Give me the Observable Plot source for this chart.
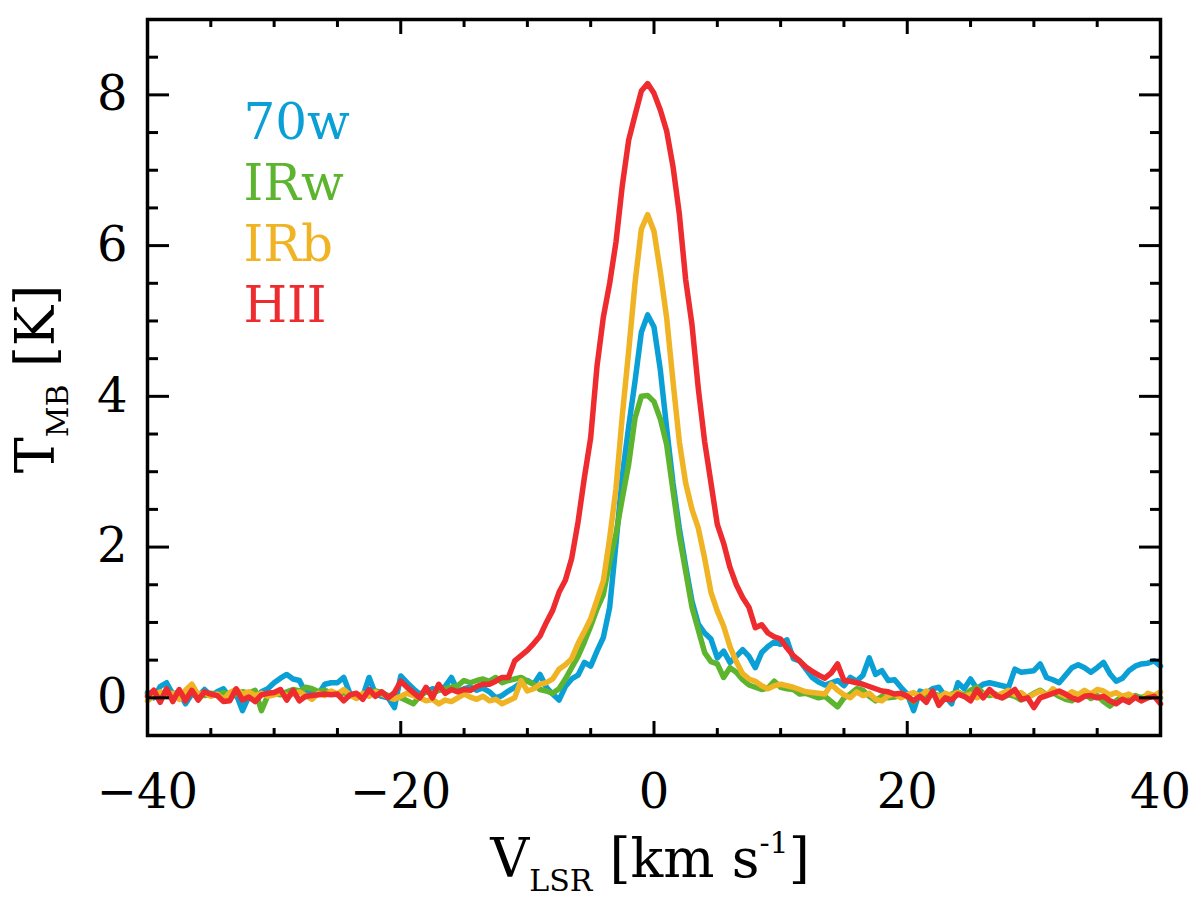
<!DOCTYPE html>
<html lang="en">
<head>
<meta charset="UTF-8">
<title>TMB spectra</title>
<script src="https://cdn.jsdelivr.net/npm/d3@7"></script>
<script src="https://cdn.jsdelivr.net/npm/@observablehq/plot@0.6"></script>
<style>
  body { margin: 0; background: #fff; }
  #chart { width: 1200px; height: 906px; }
</style>
</head>
<body>
<div id="chart"></div>
<script>
// channel velocities, km/s
const velocity = [
  -40,-39.5,-39,-38.5,-38,-37.5,-37,-36.5,-36,-35.5,
  -35,-34.5,-34,-33.5,-33,-32.5,-32,-31.5,-31,-30.5,
  -30,-29.5,-29,-28.5,-28,-27.5,-27,-26.5,-26,-25.5,
  -25,-24.5,-24,-23.5,-23,-22.5,-22,-21.5,-21,-20.5,
  -20,-19.5,-19,-18.5,-18,-17.5,-17,-16.5,-16,-15.5,
  -15,-14.5,-14,-13.5,-13,-12.5,-12,-11.5,-11,-10.5,
  -10,-9.5,-9,-8.5,-8,-7.5,-7,-6.5,-6,-5.5,
  -5,-4.5,-4,-3.5,-3,-2.5,-2,-1.5,-1,-0.5,
  0,0.5,1,1.5,2,2.5,3,3.5,4,4.5,
  5,5.5,6,6.5,7,7.5,8,8.5,9,9.5,
  10,10.5,11,11.5,12,12.5,13,13.5,14,14.5,
  15,15.5,16,16.5,17,17.5,18,18.5,19,19.5,
  20,20.5,21,21.5,22,22.5,23,23.5,24,24.5,
  25,25.5,26,26.5,27,27.5,28,28.5,29,29.5,
  30,30.5,31,31.5,32,32.5,33,33.5,34,34.5,
  35,35.5,36,36.5,37,37.5,38,38.5,39,39.5,
  40
];

// main-beam temperatures, K
const t70w = [
  0.07,0.00,0.15,0.20,0.05,0.08,-0.08,0.05,0.02,0.11,
  0.03,0.08,0.12,0.00,0.05,-0.17,0.02,0.00,0.08,0.12,
  0.20,0.26,0.31,0.25,0.23,0.06,0.09,0.05,0.18,0.20,
  0.20,0.27,0.05,0.04,0.02,0.27,0.05,0.02,0.00,-0.13,
  0.29,0.20,0.12,0.05,0.09,0.12,0.10,0.15,0.27,0.09,
  0.12,0.14,0.10,0.13,0.08,0.00,0.03,0.09,0.14,0.20,
  0.23,0.18,0.31,0.14,0.05,-0.03,0.15,0.25,0.30,0.47,
  0.42,0.62,0.80,1.20,2.05,2.95,3.60,4.20,4.85,5.08,
  4.92,4.35,3.58,2.85,2.25,1.75,1.28,0.98,0.86,0.78,
  0.53,0.62,0.47,0.55,0.64,0.55,0.40,0.60,0.68,0.74,
  0.71,0.77,0.52,0.49,0.38,0.27,0.21,0.17,0.20,0.23,
  0.16,0.27,0.22,0.30,0.53,0.31,0.36,0.23,0.24,0.14,
  0.05,-0.17,0.09,0.06,0.12,0.14,0.02,-0.08,0.20,0.12,
  0.25,0.12,0.18,0.20,0.18,0.16,0.14,0.38,0.34,0.35,
  0.36,0.45,0.27,0.24,0.20,0.30,0.40,0.44,0.40,0.34,
  0.40,0.47,0.32,0.22,0.26,0.36,0.42,0.45,0.46,0.49,
  0.42
];
const tIRw = [
  0.05,0.08,0.02,0.10,0.04,0.06,0.02,0.08,0.05,0.03,
  0.06,0.04,0.07,0.03,0.05,0.08,0.06,0.10,-0.17,0.03,
  0.06,0.04,0.08,0.11,0.09,0.14,0.12,0.08,0.10,0.06,
  0.04,0.07,0.03,0.02,0.05,0.06,0.09,0.07,0.03,0.01,
  0.00,-0.04,-0.08,0.02,0.08,0.06,0.10,0.12,0.14,0.16,
  0.23,0.20,0.23,0.25,0.22,0.27,0.20,0.23,0.25,0.27,
  0.22,0.18,0.11,0.09,0.06,0.12,0.25,0.40,0.55,0.74,
  0.95,1.18,1.37,1.80,2.18,2.65,3.10,3.71,4.00,4.01,
  3.93,3.70,3.36,2.75,2.15,1.68,1.20,0.90,0.60,0.48,
  0.45,0.27,0.40,0.34,0.24,0.17,0.14,0.11,0.13,0.22,
  0.14,0.12,0.11,0.05,0.06,0.03,0.00,0.02,-0.05,-0.12,
  0.00,0.05,0.12,0.10,0.02,-0.04,0.02,0.00,0.01,0.04,
  0.02,-0.05,0.04,0.01,0.06,0.03,-0.02,0.05,0.08,0.03,
  0.10,0.14,0.06,0.03,0.05,0.00,0.04,0.02,-0.03,0.01,
  0.06,0.10,0.04,0.07,0.02,-0.02,-0.04,0.03,0.05,-0.01,
  0.03,-0.05,-0.11,-0.04,0.02,-0.03,0.03,0.00,0.04,0.02,
  0.00
];
const tIRb = [
  -0.04,0.03,0.08,0.02,0.06,-0.02,0.10,0.18,0.04,0.07,
  0.02,0.05,-0.02,0.07,0.11,0.05,0.08,0.03,0.06,0.02,
  0.04,0.07,0.03,0.05,0.08,0.03,-0.02,0.06,0.03,0.09,
  0.05,0.11,0.04,-0.01,0.06,0.02,0.08,0.05,0.01,-0.02,
  0.02,0.06,0.03,0.00,-0.04,-0.02,-0.08,-0.03,-0.05,0.00,
  0.05,0.01,-0.02,0.02,-0.04,-0.02,-0.08,-0.04,0.00,0.23,
  0.09,0.12,0.18,0.20,0.25,0.38,0.44,0.52,0.72,0.88,
  1.05,1.30,1.55,2.12,2.78,3.75,4.60,5.50,6.22,6.41,
  6.19,5.65,5.04,4.20,3.40,2.85,2.50,2.25,1.85,1.40,
  1.15,0.95,0.68,0.48,0.32,0.25,0.22,0.16,0.12,0.16,
  0.18,0.16,0.14,0.11,0.08,0.07,0.06,0.05,0.18,0.10,
  0.04,0.00,0.08,0.03,0.06,-0.02,-0.04,0.03,0.05,0.00,
  0.04,0.07,0.02,0.09,0.05,0.01,0.06,0.03,0.07,0.02,
  0.05,0.00,0.04,0.08,0.02,0.06,0.10,0.04,0.07,0.00,
  0.05,0.09,0.03,0.12,0.06,0.02,0.08,0.04,0.10,0.05,
  0.11,0.09,0.04,0.07,0.02,0.05,0.00,-0.04,0.06,0.03,
  0.08
];
const tHII = [
  0.02,0.10,-0.06,0.12,-0.05,0.11,-0.04,0.10,-0.03,0.08,
  0.05,0.03,-0.05,-0.04,0.12,-0.03,0.01,-0.05,0.04,0.06,
  0.07,0.11,-0.03,0.10,-0.04,0.02,0.03,0.04,0.05,0.04,
  0.05,-0.04,0.04,0.06,-0.02,0.11,0.02,0.08,0.00,0.07,
  0.22,0.14,0.07,0.00,0.14,0.00,0.18,0.06,0.11,0.08,
  0.11,0.10,0.15,0.18,0.18,0.22,0.27,0.27,0.49,0.56,
  0.63,0.72,0.82,1.00,1.16,1.40,1.56,1.85,2.33,2.92,
  3.45,4.40,5.05,5.50,6.05,6.80,7.40,7.73,8.05,8.15,
  8.02,7.80,7.52,7.05,6.42,5.55,4.95,4.10,3.40,2.85,
  2.30,2.05,1.73,1.50,1.33,1.20,0.93,0.97,0.86,0.81,
  0.78,0.66,0.56,0.49,0.41,0.35,0.30,0.26,0.33,0.45,
  0.23,0.22,0.20,0.18,0.15,0.12,0.09,0.08,0.05,0.06,
  0.02,-0.04,0.02,-0.06,0.09,-0.10,0.00,-0.03,0.05,0.02,
  -0.04,0.11,0.00,0.11,0.03,0.00,0.05,0.11,-0.02,0.00,
  -0.13,0.00,0.03,0.06,0.09,0.05,0.00,-0.03,0.02,0.03,
  0.00,0.02,-0.04,-0.08,-0.02,-0.06,0.01,-0.04,0.00,0.02,
  -0.08
];

const names = ["70w", "IRw", "IRb", "HII"];
const colors = ["#0aa0d6", "#5db42f", "#efb324", "#ee2b2e"];
const series = [t70w, tIRw, tIRb, tHII];

const xMajor = [-40, -20, 0, 20, 40];
const xMinor = [-35, -30, -25, -15, -10, -5, 5, 10, 15, 25, 30, 35];
const yMajor = [0, 2, 4, 6, 8];
const yMinor = [0.5, 1, 1.5, 2.5, 3, 3.5, 4.5, 5, 5.5, 6.5, 7, 7.5, 8.5];

const rows = names.flatMap((name, k) =>
  velocity.map((v, i) => ({v, t: series[k][i], name})));

const tickOpts = {strokeWidth: 3, fill: "none", label: null};

const chart = Plot.plot({
  width: 1200,
  height: 906,
  marginLeft: 147,
  marginRight: 40,
  marginTop: 19,
  marginBottom: 171,
  style: {fontFamily: "'DejaVu Serif', serif", fontSize: "48px", color: "black", background: "white"},
  x: {domain: [-40, 40]},
  y: {domain: [-0.5, 9]},
  color: {domain: names, range: colors},
  marks: [
    Plot.line(rows, {x: "v", y: "t", z: "name", stroke: "name", strokeWidth: 5.5, strokeLinejoin: "round"}),
    // inward ticks on all four sides
    Plot.axisX(xMinor, {anchor: "bottom", tickSize: -7, ...tickOpts}),
    Plot.axisX(xMajor, {anchor: "bottom", tickSize: -14, ...tickOpts}),
    Plot.axisX(xMinor, {anchor: "top", tickSize: -7, ...tickOpts}),
    Plot.axisX(xMajor, {anchor: "top", tickSize: -14, ...tickOpts}),
    Plot.axisY(yMinor, {anchor: "left", tickSize: -11, ...tickOpts}),
    Plot.axisY(yMajor, {anchor: "left", tickSize: -22, ...tickOpts}),
    Plot.axisY(yMinor, {anchor: "right", tickSize: -11, ...tickOpts}),
    Plot.axisY(yMajor, {anchor: "right", tickSize: -22, ...tickOpts}),
    // tick labels
    Plot.axisX(xMajor, {anchor: "bottom", tickSize: 0, tickPadding: 38, fontSize: 48, label: null}),
    Plot.axisY(yMajor, {anchor: "left", tickSize: 0, tickPadding: 20, fontSize: 48, label: null, tickFormat: "d"}),
    Plot.frame({stroke: "black", strokeWidth: 3.5}),
    // legend
    ...names.map((name, i) => Plot.text([name], {
      text: d => d, fill: colors[i], frameAnchor: "top-left", textAnchor: "start",
      lineAnchor: "top", dx: 96, dy: 84 + 61 * i, fontSize: 50
    }))
  ]
});

const svg = d3.select(chart);

// x label with subscript and superscript
const xl = svg.append("text")
  .attr("x", 650).attr("y", 877)
  .attr("text-anchor", "middle").attr("font-size", 54).attr("fill", "black");
xl.append("tspan").text("V");
xl.append("tspan").attr("dy", 14).attr("font-size", 30).text("LSR");
xl.append("tspan").attr("dy", -14).text(" [km s");
xl.append("tspan").attr("dy", -24).attr("font-size", 30).text("-1");
xl.append("tspan").attr("dy", 24).text("]");

// y label, rotated
const yl = svg.append("text")
  .attr("transform", "translate(54,379) rotate(-90)")
  .attr("text-anchor", "middle").attr("font-size", 54).attr("fill", "black");
yl.append("tspan").text("T");
yl.append("tspan").attr("dy", 14).attr("font-size", 30).text("MB");
yl.append("tspan").attr("dy", -14).text(" [K]");

document.querySelector("#chart").append(chart);
</script>
</body>
</html>
